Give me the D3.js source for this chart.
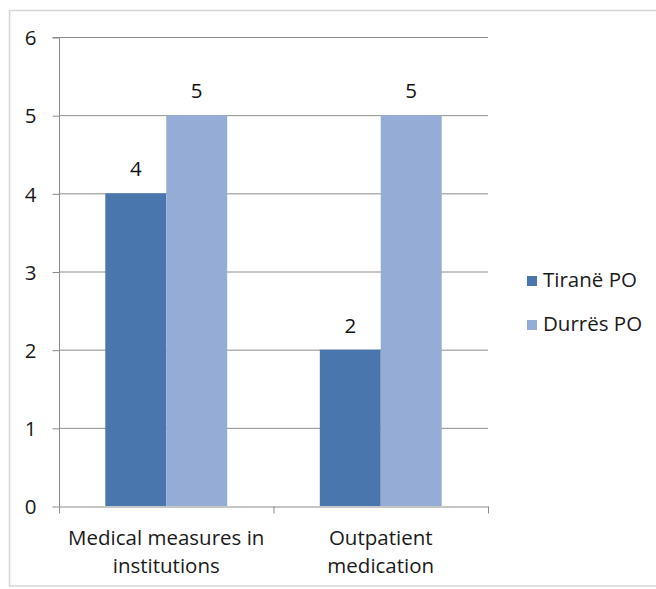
<!DOCTYPE html>
<html>
<head>
<meta charset="utf-8">
<script src="https://cdn.jsdelivr.net/npm/d3@7"></script>
<style>
  html, body { margin: 0; padding: 0; background: #fff; }
  svg { display: block; }
  text { font-family: "Open Sans", "Noto Sans", sans-serif; fill: #1a1a1a; }
</style>
</head>
<body>
<svg id="chart" width="656" height="589"></svg>
<script>
// Chart data
const categories = [["Medical measures in", "institutions"], ["Outpatient", "medication"]];
const seriesNames = ["Tiranë PO", "Durrës PO"];
const tiraneValues = [4, 2];
const durresValues = [5, 5];
const yTicks = [0, 1, 2, 3, 4, 5, 6];

const colors = ["#4a76ae", "#94acd6"];
const seriesValues = [tiraneValues, durresValues];
const fontSize = 20.5;

const svg = d3.select("#chart");
const plot = { left: 59, right: 488, top: 37, bottom: 506 };

// Outer chart frame
svg.append("rect")
  .attr("x", 9.5).attr("y", 10.5)
  .attr("width", 660).attr("height", 575.5)
  .attr("fill", "none").attr("stroke", "#d6d6d6").attr("stroke-width", 1.5);

const x0 = d3.scaleBand()
  .domain(d3.range(categories.length))
  .range([plot.left, plot.right])
  .paddingInner(0).paddingOuter(0);

const x1 = d3.scaleBand()
  .domain(d3.range(seriesNames.length))
  .range([0, x0.bandwidth()])
  .paddingInner(0).paddingOuter(0.76);

const y = d3.scaleLinear().domain([0, 6]).range([plot.bottom, plot.top]);

// Horizontal gridlines
svg.append("g").selectAll("line")
  .data(yTicks.filter(d => d > 0))
  .join("line")
  .attr("x1", plot.left).attr("x2", plot.right)
  .attr("y1", d => y(d) + 0.5).attr("y2", d => y(d) + 0.5)
  .attr("stroke", "#8c8c8c").attr("stroke-width", 1);

// Bars
const groups = svg.append("g").selectAll("g")
  .data(categories.map((c, i) => i))
  .join("g")
  .attr("transform", i => `translate(${x0(i)},0)`);

groups.selectAll("rect")
  .data(i => seriesValues.map((vals, s) => ({ s, v: vals[i] })))
  .join("rect")
  .attr("x", d => x1(d.s))
  .attr("width", x1.bandwidth())
  .attr("y", d => y(d.v))
  .attr("height", d => y(0) - y(d.v))
  .attr("fill", d => colors[d.s]);

// Value labels
groups.selectAll("text.val")
  .data(i => seriesValues.map((vals, s) => ({ s, v: vals[i] })))
  .join("text")
  .attr("class", "val")
  .attr("x", d => x1(d.s) + x1.bandwidth() / 2)
  .attr("y", d => y(d.v) - 17)
  .attr("text-anchor", "middle")
  .attr("font-size", fontSize)
  .style("fill", "#111")
  .text(d => d.v);

// Y axis
const yAxis = d3.axisLeft(y).tickValues(yTicks).tickSize(7).tickPadding(16).tickFormat(d3.format("d"));
const yg = svg.append("g").attr("transform", `translate(${plot.left + 0.5},0.5)`).call(yAxis);
yg.select(".domain").attr("stroke", "#8c8c8c").attr("d", `M-7,${plot.top}H0V${plot.bottom}`);
yg.selectAll(".tick line").attr("stroke", "#8c8c8c");
yg.selectAll(".tick text").attr("font-size", fontSize).attr("fill", "#1a1a1a")
  .attr("font-family", "\"Open Sans\", sans-serif").attr("dy", "0.35em");

// X axis
const xAxis = d3.axisBottom(x0).tickValues([]).tickSizeOuter(0);
const xg = svg.append("g").attr("transform", `translate(0,${plot.bottom + 0.5})`).call(xAxis);
xg.select(".domain").attr("stroke", "#8c8c8c");
const xBoundaries = d3.range(categories.length + 1).map(i => plot.left + i * x0.bandwidth());
xg.selectAll("line.tk")
  .data(xBoundaries)
  .join("line")
  .attr("class", "tk")
  .attr("x1", d => d + 0.5).attr("x2", d => d + 0.5)
  .attr("y1", 0).attr("y2", 7)
  .attr("stroke", "#8c8c8c");

// Category labels
const catLabels = svg.append("g").selectAll("text")
  .data(categories.map((c, i) => ({ c, i })))
  .join("text")
  .attr("text-anchor", "middle")
  .attr("font-size", fontSize)
  .attr("x", d => x0(d.i) + x0.bandwidth() / 2)
  .attr("y", 545);
catLabels.selectAll("tspan")
  .data(d => d.c.map((line, k) => ({ line, k, x: x0(d.i) + x0.bandwidth() / 2 })))
  .join("tspan")
  .attr("x", d => d.x)
  .attr("dy", d => d.k === 0 ? 0 : 28)
  .text(d => d.line);

// Legend
const legend = svg.append("g").selectAll("g")
  .data(seriesNames.map((n, i) => ({ n, i })))
  .join("g")
  .attr("transform", d => `translate(527,${276 + d.i * 44})`);
legend.append("rect")
  .attr("width", 10).attr("height", 10)
  .attr("fill", d => colors[d.i]);
legend.append("text")
  .attr("x", 16).attr("y", 11)
  .attr("font-size", fontSize)
  .text(d => d.n);
</script>
</body>
</html>
